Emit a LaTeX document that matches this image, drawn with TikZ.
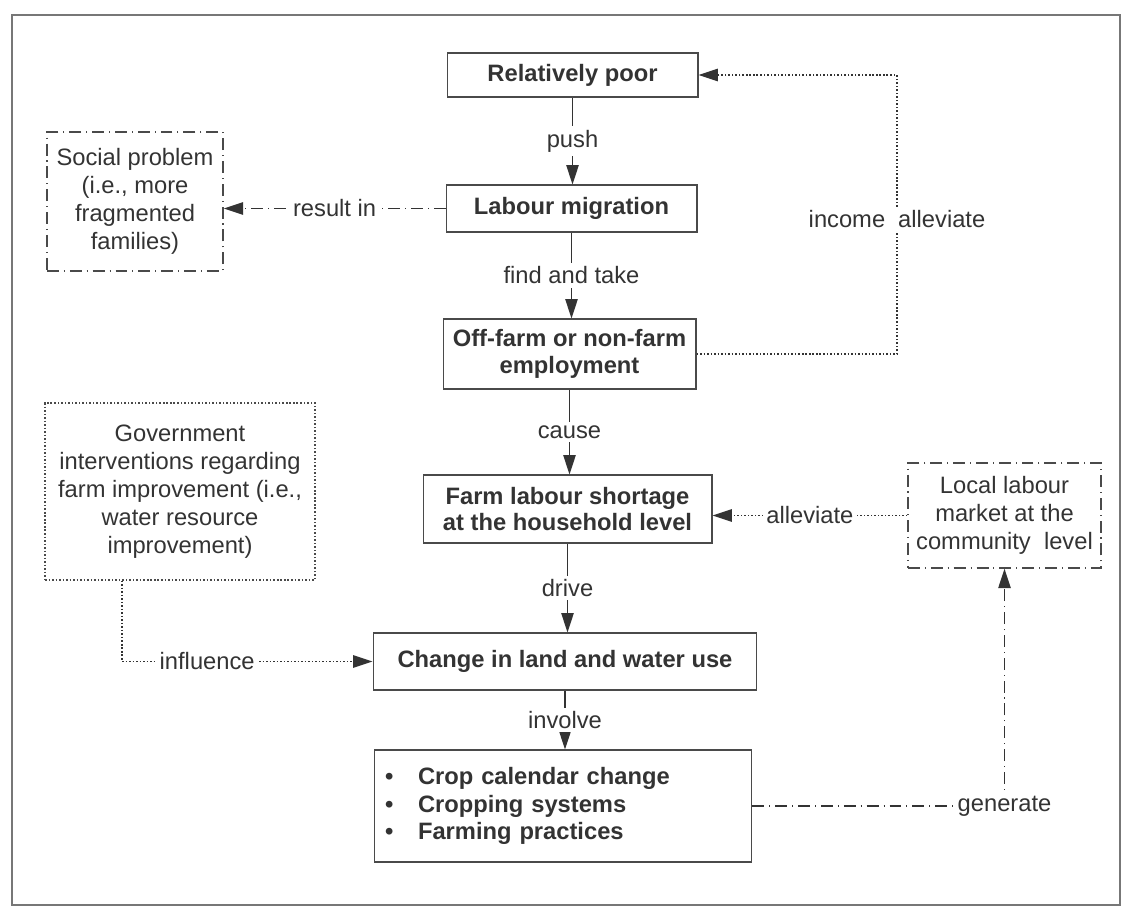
\documentclass[tikz,border=0pt]{standalone}
\usepackage{fontspec}
\setmainfont{Liberation Sans}
\usetikzlibrary{arrows.meta}
\definecolor{ink}{HTML}{333333}
\definecolor{edgec}{HTML}{4A4A4A}
\definecolor{framec}{HTML}{777777}
\begin{document}
\begin{tikzpicture}[x=0.02cm,y=-0.02cm,
  solidbox/.style={draw=edgec, line width=0.6pt, text=ink, align=center, inner sep=0pt,
    font=\fontsize{13.5}{15.3}\selectfont\bfseries},
  plainbox/.style={draw=edgec, line width=0.8pt, text=ink, align=center, inner sep=0pt,
    font=\fontsize{13.5}{15.9}\selectfont},
  dashdotline/.style={dash pattern=on 6.8pt off 2.8pt on 0.6pt off 2.8pt},
  dotline/.style={dash pattern=on 0.9pt off 1.1pt},
  lbl/.style={fill=white, text=ink, inner sep=2pt, font=\fontsize{13.5}{15.9}\selectfont},
  tip/.style={-{Triangle[length=11pt,width=7pt]}},
  flow/.style={draw=ink, line width=0.8pt, tip},
  dflow/.style={draw=ink, line width=0.9pt, dotline, tip},
  ddflow/.style={draw=ink, line width=0.8pt, dashdotline, tip}
]
\useasboundingbox (0,0) rectangle (1129,911);
\draw[framec, line width=0.8pt] (12,15) rectangle (1120,905);

% main column
\node[solidbox, minimum width=5.02cm, minimum height=0.88cm] (rp) at (572.5,75) {Relatively poor};
\node[solidbox, minimum width=5.02cm, minimum height=0.94cm] (lm) at (571.5,208.5) {Labour migration};
\node[solidbox, minimum width=5.06cm, minimum height=1.40cm] (off) at (569.5,354) {Off-farm or non-farm\\employment};
\node[solidbox, minimum width=5.78cm, minimum height=1.36cm] (fl) at (567.5,509) {Farm labour shortage\\at the household level};
\node[solidbox, minimum width=7.68cm, minimum height=1.14cm] (ch) at (565,661.5) {Change in land and water use};
\node[solidbox, minimum width=7.56cm, minimum height=2.24cm, align=left, text width=7.12cm] (bl) at (563,806)
  {\fontsize{13.5}{15.6}\selectfont\makebox[0.66cm][l]{\textbullet}Crop calendar change\\
   \makebox[0.66cm][l]{\textbullet}Cropping systems\\
   \makebox[0.66cm][l]{\textbullet}Farming practices};

% side boxes
\node[plainbox, dashdotline, minimum width=3.52cm, minimum height=2.78cm] (soc) at (135,201.5)
  {Social problem\\(i.e., more\\fragmented\\families)};
\node[plainbox, dotline, minimum width=5.40cm, minimum height=3.54cm] (gov) at (180,491.5)
  {Government\\interventions regarding\\farm improvement (i.e.,\\water resource\\improvement)};
\node[plainbox, dashdotline, minimum width=3.86cm, minimum height=2.10cm] (loc) at (1004.5,515.5)
  {Local labour\\market at the\\community\ \ level};

% helper coordinates
\coordinate (incx) at (897,0);
\coordinate (inflx) at (122,0);

% main flow
\draw[flow] (rp.south) -- node[lbl]{push} (rp.south |- lm.north);
\draw[flow] (lm.south) -- node[lbl]{find and take} (lm.south |- off.north);
\draw[flow] (off.south) -- node[lbl]{cause} (off.south |- fl.north);
\draw[flow] (fl.south) -- node[lbl]{drive} (fl.south |- ch.north);
\draw[flow] (ch.south) -- node[lbl]{involve} (ch.south |- bl.north);

% side connectors
\draw[ddflow] (lm.west) -- node[lbl]{result in} (lm.west -| soc.east);
\draw[dflow] (off.east) -- (off.east -| incx) -- node[lbl, pos=0.484]{income\hspace{0.55em}alleviate} (rp.east -| incx) -- (rp.east);
\draw[dflow] (loc.west) -- node[lbl]{alleviate} (loc.west -| fl.east);
\draw[dflow] (gov.south -| inflx) -- (inflx |- ch.west) -- node[lbl, pos=0.34]{influence} (ch.west);
\draw[ddflow] (bl.east) -- (bl.east -| loc.south) node[lbl]{generate} -- (loc.south);
\end{tikzpicture}
\end{document}
